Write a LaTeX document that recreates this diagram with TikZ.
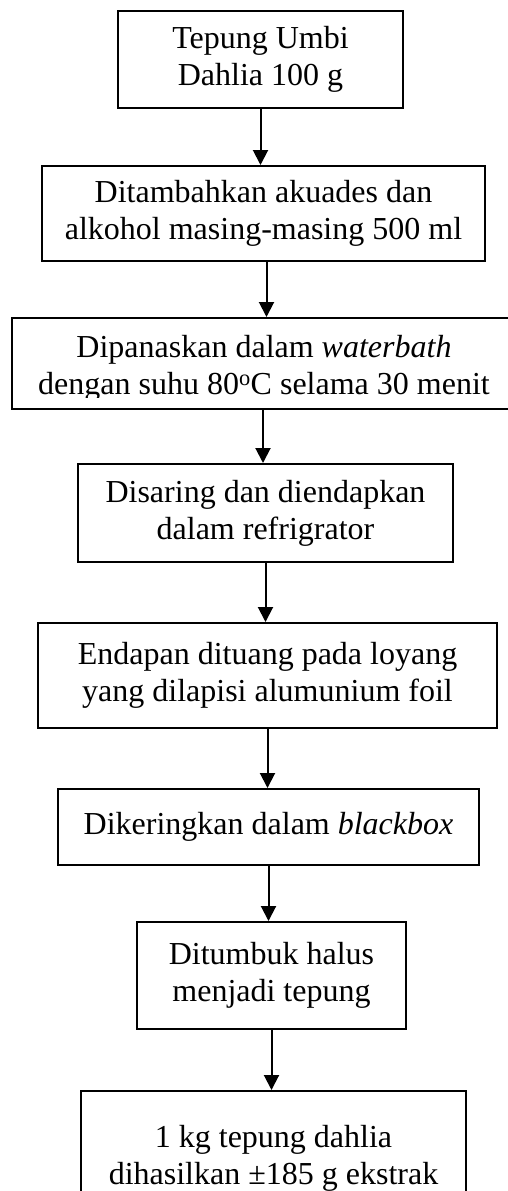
\documentclass[tikz,border=0pt]{standalone}
\usepackage{fontspec}
\setmainfont{Liberation Serif}
\usetikzlibrary{arrows.meta}

\begin{document}
\begin{tikzpicture}[x=1pt,y=-1pt,>={Triangle[width=15pt,length=15pt]},
  stepfont/.style={font=\fontsize{32}{37}\selectfont},
  stepbox/.style={draw, line width=2pt, align=center, inner sep=0pt, stepfont},
  flow/.style={->, line width=2pt}]
\clip (0,0) rectangle (508,1191);
\node[stepbox, minimum width=285pt, minimum height=97pt] (tepung) at (260.5,59.5) {Tepung Umbi\\Dahlia 100 g};
\node[stepbox, minimum width=443pt, minimum height=95pt] (tambah) at (263.5,213.5) {Ditambahkan akuades dan\\alkohol masing-masing 500 ml};
\node[stepbox, minimum width=502pt, minimum height=91pt] (panas) at (263,363.5) {};
% text of this box is cut off at the bottom
\begin{scope}
\clip (12,318) rectangle (508,397.5);
\node[stepfont, align=center, inner sep=0pt] (panastext) at (264,368.5) {Dipanaskan dalam \textit{waterbath}\\dengan suhu 80\textsuperscript{o}C selama 30 menit};
\end{scope}
\node[stepbox, minimum width=375pt, minimum height=98pt] (saring) at (265.5,513) {Disaring dan diendapkan\\dalam refrigrator};
\node[stepbox, minimum width=459pt, minimum height=105pt] (tuang) at (267.5,675.5) {Endapan dituang pada loyang\\yang dilapisi alumunium foil};
\node[stepbox, minimum width=421pt, minimum height=76pt] (kering) at (268.5,827) {Dikeringkan dalam \textit{blackbox}};
\node[stepbox, minimum width=269pt, minimum height=107pt] (tumbuk) at (271.5,975.5) {Ditumbuk halus\\menjadi tepung};
\node[stepbox, minimum width=385pt, minimum height=134pt] (hasil) at (273.5,1158) {1 kg tepung dahlia\\dihasilkan ±185 g ekstrak};

\draw[flow] (tepung) -- (tepung |- tambah.north);
\draw[flow] (tambah.south) ++(3,0) coordinate (a2) -- (a2 |- panas.north);
\draw[flow] (panas) -- (panas |- saring.north);
\draw[flow] (saring) -- (saring |- tuang.north);
\draw[flow] (tuang) -- (tuang |- kering.north);
\draw[flow] (kering) -- (kering |- tumbuk.north);
\draw[flow] (tumbuk) -- (tumbuk |- hasil.north);
\end{tikzpicture}
\end{document}
